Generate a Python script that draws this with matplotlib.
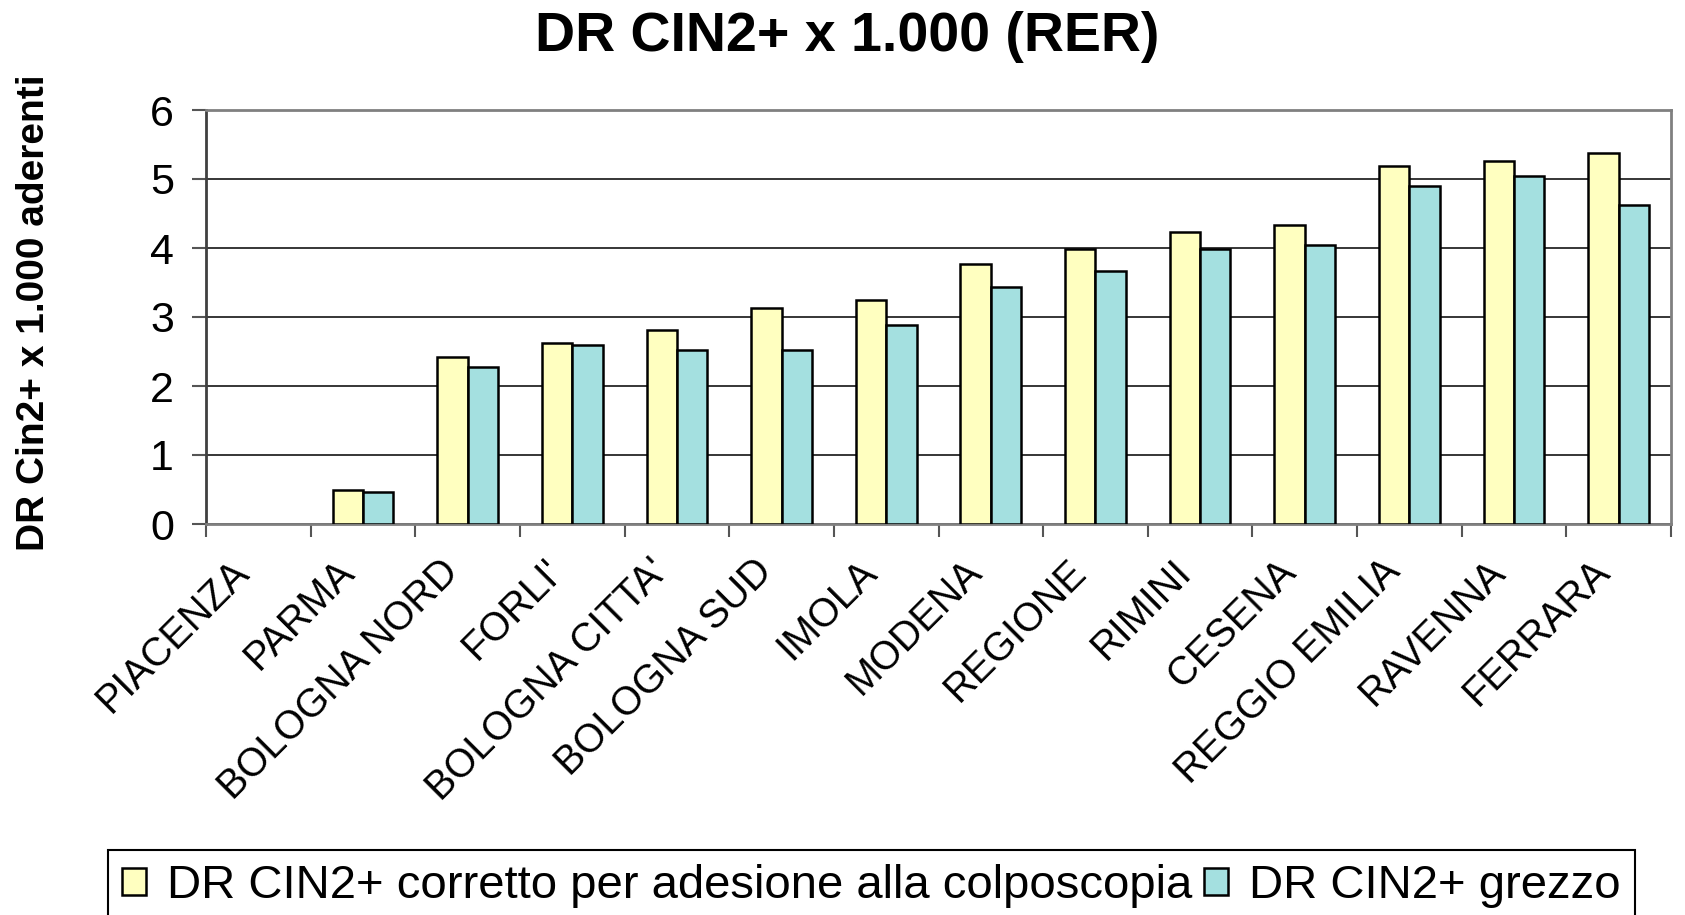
import numpy as np
import matplotlib
matplotlib.use("Agg")
import matplotlib.pyplot as plt
from matplotlib.transforms import ScaledTranslation

plt.rcParams['font.family'] = ['Liberation Sans', 'DejaVu Sans']

# dati (PIACENZA senza valore)
categorie = ["PIACENZA", "PARMA", "BOLOGNA NORD", "FORLI'", "BOLOGNA CITTA'",
             "BOLOGNA SUD", "IMOLA", "MODENA", "REGIONE", "RIMINI", "CESENA",
             "REGGIO EMILIA", "RAVENNA", "FERRARA"]
dr_corretto = [None, 0.50, 2.42, 2.62, 2.81, 3.13, 3.24, 3.77, 3.98, 4.23, 4.33, 5.19, 5.26, 5.37]
dr_grezzo = [None, 0.46, 2.28, 2.59, 2.52, 2.52, 2.88, 3.44, 3.66, 3.98, 4.05, 4.90, 5.04, 4.62]
y_ticks = [0, 1, 2, 3, 4, 5, 6]

lab_corretto = "DR CIN2+ corretto per adesione alla colposcopia"
lab_grezzo = "DR CIN2+ grezzo"

W, H = 1685, 915
fig = plt.figure(figsize=(W / 100, H / 100), dpi=100)
ax = fig.add_axes([206 / W, 1 - 524 / H, (1671 - 206) / W, (524 - 110) / H])

n = len(categorie)
x = np.arange(n)
w = 0.29
corr = np.array([np.nan if v is None else v for v in dr_corretto])
grez = np.array([np.nan if v is None else v for v in dr_grezzo])

ax.bar(x - w / 2, corr, w, color='#FFFFC0', edgecolor='black', linewidth=1.8,
       label=lab_corretto, zorder=3)
ax.bar(x + w / 2, grez, w, color='#A4E0E0', edgecolor='black', linewidth=1.8,
       label=lab_grezzo, zorder=3)

ax.set_xlim(-0.5, n - 0.5)
ax.set_ylim(0, 6)
ax.set_yticks(y_ticks)
ax.yaxis.grid(True, color='black', linewidth=1.1, zorder=0)
ax.set_axisbelow(True)

ax.tick_params(axis='y', direction='out', length=10, width=1.5, color='#555555',
               pad=13, labelsize=31)
ax.set_xticks(x)
ax.set_xticklabels(categorie, rotation=45, ha='right', va='center',
                   rotation_mode='anchor', fontsize=28.5)
ax.tick_params(axis='x', which='major', length=0, pad=30)
off = ScaledTranslation(-15 / 100, 0, fig.dpi_scale_trans)
for t in ax.get_xticklabels():
    t.set_transform(t.get_transform() + off)
ax.set_xticks(np.arange(n + 1) - 0.5, minor=True)
ax.tick_params(axis='x', which='minor', direction='out', length=9, width=1.5,
               color='#555555')

for s in ['top', 'right', 'bottom']:
    ax.spines[s].set_color('#808080')
    ax.spines[s].set_linewidth(2)
ax.spines['left'].set_color('#404040')
ax.spines['left'].set_linewidth(2)

fig.text(847 / W, 1 - 11 / H, "DR CIN2+ x 1.000 (RER)", ha='center', va='top',
         fontsize=40, fontweight='bold')
fig.text(34 / W, 1 - 313 / H, "DR Cin2+ x 1.000 aderenti", rotation=90,
         ha='center', va='center', fontsize=28, fontweight='bold')

leg = fig.legend(loc='upper left', bbox_to_anchor=(108 / W, 1 - 850 / H), ncol=2,
                 fontsize=34, frameon=True, fancybox=False, edgecolor='black',
                 framealpha=1, borderpad=0.3, handlelength=0.5, handleheight=0.5,
                 handletextpad=0.45, columnspacing=0.25, borderaxespad=0)
leg.get_frame().set_linewidth(1.5)

fig.savefig("out.png", dpi=100)
